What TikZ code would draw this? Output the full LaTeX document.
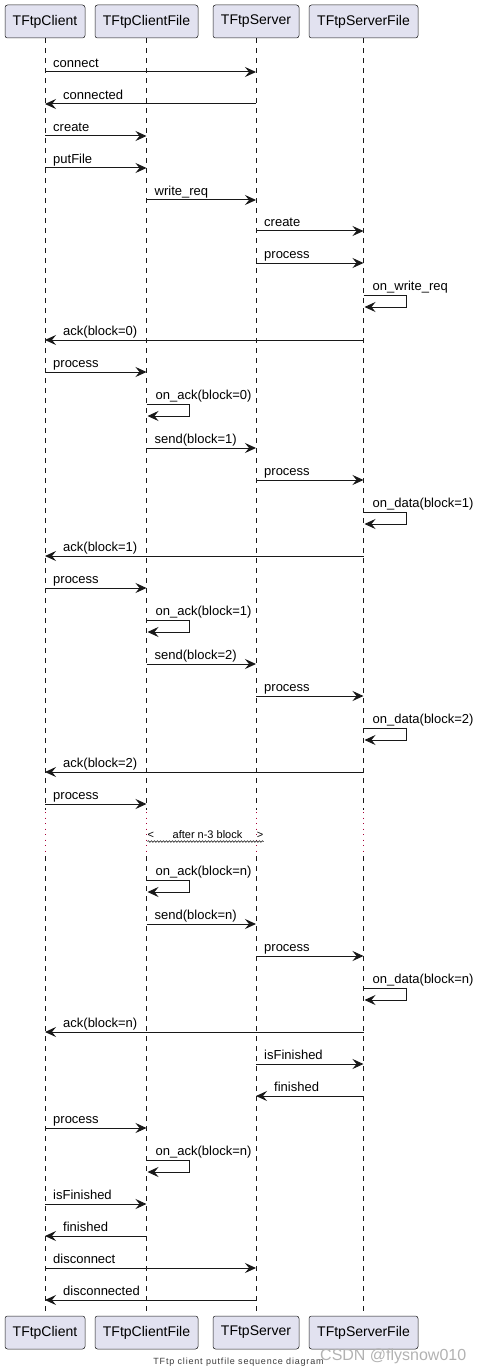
\documentclass[tikz,border=0pt]{standalone}
\usepackage{fontspec}
\setmainfont{Liberation Sans}
\newfontfamily\capfont[LetterSpace=9]{Liberation Sans}
\usetikzlibrary{arrows.meta,calc,decorations.pathmorphing}
\definecolor{pbg}{HTML}{E2E2F0}
\definecolor{pline}{HTML}{181818}
\definecolor{delayred}{HTML}{A80036}

\newcommand\msgR[4]{%
  \draw[msgline] (#1.south |- 0,#3) -- (#2.south |- 0,#3);
  \node[lbl] (l#3) at ($(#1.south |- 0,#3)+(8,-4.5)$) {#4};}
\newcommand\msgL[4]{%
  \draw[msgline] (#1.south |- 0,#3) -- (#2.south |- 0,#3);
  \node[lbl] (l#3) at ($(#2.south |- 0,#3)+(18,-4.5)$) {#4};}
\newcommand\selfmsg[3]{%
  \draw[msgline] (#1.south |- 0,#2) -- ++(43,0) -- ++(0,12) -- ($(#1.south |- 0,#2)+(1,12)$);
  \node[lbl] (l#2) at ($(#1.south |- 0,#2)+(9,-4.5)$) {#3};}

\begin{document}
\begin{tikzpicture}[x=1pt,y=-1pt,
  part/.style={draw=pline, line width=0.5pt, fill=pbg, rounded corners=2.5pt,
    minimum height=33pt, inner sep=0pt, font=\fontsize{14}{16}\selectfont},
  life/.style={draw=pline, line width=0.5pt, dash pattern=on 5pt off 5pt},
  delayline/.style={draw=delayred, line width=1pt, dash pattern=on 1pt off 4.5pt},
  msgline/.style={draw=pline, line width=1pt, -{Stealth[length=11pt,width=10pt,inset=4pt]}},
  lbl/.style={anchor=base west, inner sep=0pt, font=\fontsize{13}{15}\selectfont},
  delaytxt/.style={inner sep=0pt, font=\fontsize{11}{13}\selectfont},
]
\useasboundingbox (0,0) rectangle (477,1372);

% participants
\node[part, minimum width=80pt]  (A) at (45,21.5)    {TFtpClient};
\node[part, minimum width=103pt] (B) at (146.5,21.5) {TFtpClientFile};
\node[part, minimum width=86pt]  (C) at (256,21.5)   {TFtpServer};
\node[part, minimum width=109pt] (D) at (363.5,21.5) {TFtpServerFile};
\node[part, minimum width=80pt]  (A2) at (45,1332.5)    {TFtpClient};
\node[part, minimum width=103pt] (B2) at (146.5,1332.5) {TFtpClientFile};
\node[part, minimum width=86pt]  (C2) at (256,1332.5)   {TFtpServer};
\node[part, minimum width=109pt] (D2) at (363.5,1332.5) {TFtpServerFile};

% lifelines
\foreach \p in {A,B,C,D}{
  \draw[life] (\p.south) -- (\p.south |- 0,810);
  \draw[delayline] (\p.south |- 0,812) -- (\p.south |- 0,853);
  \draw[life] (\p.south |- 0,856) -- (\p2.north);
}

% messages
\msgR{A}{C}{72}{connect}
\msgL{C}{A}{104}{connected}
\msgR{A}{B}{136}{create}
\msgR{A}{B}{168}{putFile}
\msgR{B}{C}{200}{write\_req}
\msgR{C}{D}{231}{create}
\msgR{C}{D}{263}{process}
\selfmsg{D}{295}{on\_write\_req}
\msgL{D}{A}{340}{ack(block=0)}
\msgR{A}{B}{372}{process}
\selfmsg{B}{404}{on\_ack(block=0)}
\msgR{B}{C}{448}{send(block=1)}
\msgR{C}{D}{480}{process}
\selfmsg{D}{512}{on\_data(block=1)}
\msgL{D}{A}{556}{ack(block=1)}
\msgR{A}{B}{588}{process}
\selfmsg{B}{620}{on\_ack(block=1)}
\msgR{B}{C}{664}{send(block=2)}
\msgR{C}{D}{696}{process}
\selfmsg{D}{728}{on\_data(block=2)}
\msgL{D}{A}{772}{ack(block=2)}
\msgR{A}{B}{804}{process}
\selfmsg{B}{880}{on\_ack(block=n)}
\msgR{B}{C}{924}{send(block=n)}
\msgR{C}{D}{956}{process}
\selfmsg{D}{988}{on\_data(block=n)}
\msgL{D}{A}{1032}{ack(block=n)}
\msgR{C}{D}{1064}{isFinished}
\msgL{D}{C}{1096}{finished}
\msgR{A}{B}{1128}{process}
\selfmsg{B}{1160}{on\_ack(block=n)}
\msgR{A}{B}{1204}{isFinished}
\msgL{B}{A}{1236}{finished}
\msgR{A}{C}{1268}{disconnect}
\msgL{C}{A}{1300}{disconnected}

% delay
\node[delaytxt, anchor=base west] (dl) at (147.5,838) {<};
\node[delaytxt, anchor=base] (dt) at (207.5,838) {after n-3 block};
\node[delaytxt, anchor=base east] (dr) at (263.5,838) {>};
\draw[pline, line width=0.6pt, decorate,
  decoration={snake, amplitude=0.8pt, segment length=3pt}]
  (dl.base west |- 0,841.5) -- (dr.base east |- 0,841.5);

% caption and watermark
\node[font=\capfont\fontsize{9}{11}\selectfont, text=pline!85, anchor=base, inner sep=0pt] (cap) at (238.5,1364) {TFtp client putfile sequence diagram};
\node[font=\fontsize{16}{18}\selectfont, text=black!30, anchor=base west, inner sep=0pt] (wm) at (320,1360) {CSDN @flysnow010};
\end{tikzpicture}
\end{document}
